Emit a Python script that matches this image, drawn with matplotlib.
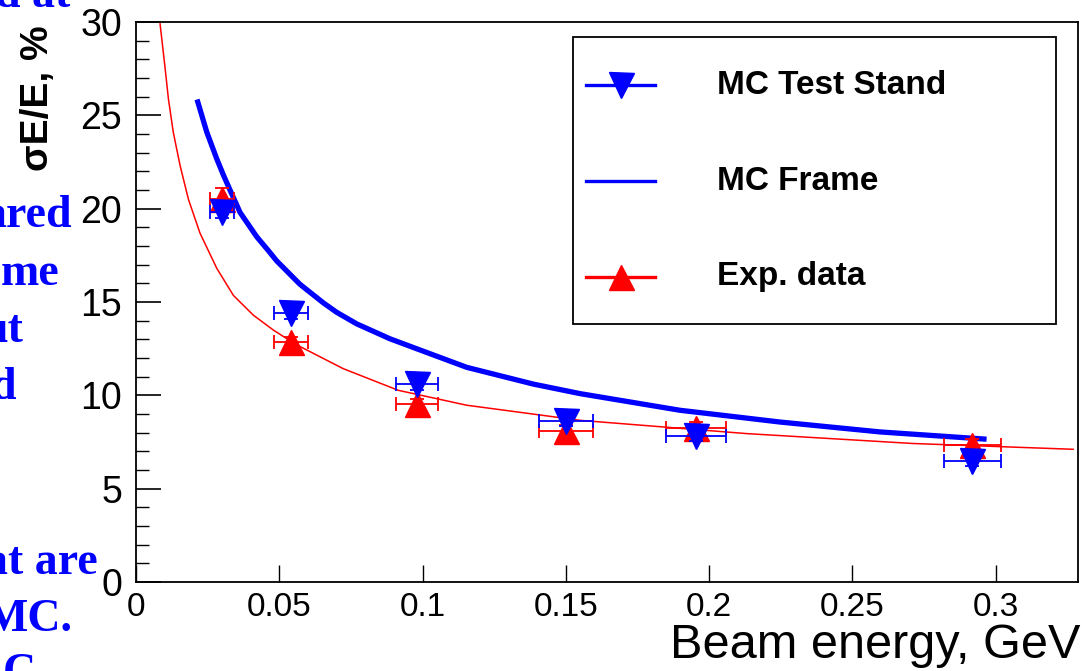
import matplotlib
matplotlib.use("Agg")
import matplotlib.pyplot as plt
from matplotlib.lines import Line2D
from matplotlib.patches import Rectangle

# ---------------- data ----------------
energy = [0.030, 0.054, 0.098, 0.150, 0.1953, 0.2918]
energy_err = [0.0042, 0.0060, 0.0073, 0.0094, 0.0105, 0.0099]

mc_stand = [19.8, 14.4, 10.6, 8.65, 7.83, 6.49]
mc_stand_err = [0.3, 0.3, 0.3, 0.3, 0.3, 0.3]

exp_data = [20.5, 12.85, 9.52, 8.10, 8.27, 7.34]
exp_data_err = [0.6, 0.3, 0.3, 0.3, 0.3, 0.3]

frame_x = [0.0213, 0.0247, 0.0282, 0.0305, 0.0328, 0.0363, 0.0421, 0.0462,
           0.0491, 0.0572, 0.0654, 0.0700, 0.0770, 0.0886, 0.1026, 0.1154,
           0.1387, 0.155, 0.1898, 0.2247, 0.2596, 0.2968]
frame_y = [25.85, 24.1, 22.66, 21.8, 21.0, 19.8, 18.5, 17.75,
           17.2, 15.95, 14.95, 14.45, 13.83, 13.03, 12.23, 11.5,
           10.6, 10.09, 9.2, 8.57, 8.04, 7.65]

fit_x = [0.0084, 0.0101, 0.0113, 0.0130, 0.0154, 0.0183, 0.0223, 0.0282,
         0.0340, 0.0409, 0.0479, 0.0555, 0.0723, 0.0915, 0.1154, 0.155,
         0.2131, 0.2711, 0.327]
fit_y = [29.9, 27.6, 25.9, 24.1, 22.3, 20.5, 18.7, 16.8,
         15.35, 14.3, 13.5, 12.75, 11.43, 10.27, 9.47, 8.66,
         7.95, 7.42, 7.11]

x_ticks = [0, 0.05, 0.1, 0.15, 0.2, 0.25, 0.3]
x_tick_labels = ["0", "0.05", "0.1", "0.15", "0.2", "0.25", "0.3"]
y_ticks = [0, 5, 10, 15, 20, 25, 30]

legend_labels = ["MC Test Stand", "MC Frame", "Exp. data"]
side_texts = ["d at", "ared", "me", "ut", "d", "at are", "MC.", "C"]

# ---------------- figure ----------------
W, H = 1082, 671
fig = plt.figure(figsize=(W / 100, H / 100), dpi=100)
fig.patch.set_facecolor("white")

def px(x, y):
    return x / W, 1 - y / H

ax = fig.add_axes([136 / W, 1 - 582 / H, 942 / W, 560 / H])
ax.set_xlim(0, 0.3287)
ax.set_ylim(0, 30)

# fit curves
ax.plot(fit_x, fit_y, color="red", lw=1.1, zorder=2, solid_joinstyle="round")
ax.plot(frame_x, frame_y, color="blue", lw=3.8, zorder=3,
        solid_capstyle="butt", solid_joinstyle="round")

# data points
ax.errorbar(energy, exp_data, xerr=energy_err, yerr=exp_data_err, fmt="^",
            color="red", ms=18, elinewidth=1.3, capsize=5, capthick=1.3,
            zorder=4)
ax.errorbar(energy, mc_stand, xerr=energy_err, yerr=mc_stand_err, fmt="v",
            color="blue", ms=18, elinewidth=1.3, capsize=5, capthick=1.3,
            zorder=5)

# ticks
ax.set_xticks(x_ticks)
ax.set_xticklabels(x_tick_labels, fontfamily="Liberation Sans", fontsize=24)
ax.set_yticks(y_ticks)
ax.set_yticklabels([str(v) for v in y_ticks], fontfamily="Liberation Sans",
                   fontsize=27)
ax.set_yticks(range(0, 31), minor=True)
ax.tick_params(axis="y", which="major", direction="in", length=18, width=1.2,
               pad=10, left=True, right=False)
ax.tick_params(axis="y", which="minor", direction="in", length=9, width=1.0,
               left=True, right=False)
ax.tick_params(axis="x", which="major", direction="in", length=12, width=1.0,
               pad=7, top=False)
ax.tick_params(axis="x", which="minor", bottom=False)
for s in ax.spines.values():
    s.set_linewidth(1.3)
    s.set_color("black")

# axis titles
fig.text(*px(38, 98), "σE/E, %", rotation=90, ha="center", va="center",
         fontfamily=["Liberation Sans", "DejaVu Sans"], fontsize=28,
         fontweight="bold")
fig.text(*px(1080, 645), "Beam energy, GeV", ha="right", va="center",
         fontfamily="Liberation Sans", fontsize=35)

# legend box (manual, axes coordinates)
def axf(x, y):
    return (x - 136) / 942, (582 - y) / 560

lx0, ly0 = axf(573, 324)
lx1, ly1 = axf(1056, 37)
ax.add_patch(Rectangle((lx0, ly0), lx1 - lx0, ly1 - ly0, transform=ax.transAxes,
                       facecolor="white", edgecolor="black", lw=1.3, zorder=6))
styles = [("blue", "v"), ("blue", None), ("red", "^")]
for (col, mk), lab, yy in zip(styles, legend_labels, [85, 181, 277]):
    xa, ya = axf(586, yy)
    xb, _ = axf(655, yy)
    ax.add_line(Line2D([xa, xb], [ya, ya], transform=ax.transAxes, color=col,
                       lw=2.4, zorder=7))
    if mk:
        ax.add_line(Line2D([(xa + xb) / 2], [ya], transform=ax.transAxes,
                           marker=mk, color=col, ms=18, lw=0, zorder=8))
    xt, _ = axf(717, yy)
    ax.text(xt, ya, lab, transform=ax.transAxes, ha="left", va="center",
            fontfamily="Liberation Sans", fontsize=24, fontweight="bold",
            zorder=8)

# partial slide text on the left margin (cut by the image edge, as in the source)
side_pos = [(70, -4), (72, 216), (59, 274), (23, 331), (16, 388),
            (98, 563), (72, 620), (36, 674)]
for t, (xr, yc) in zip(side_texts, side_pos):
    fig.text(*px(xr, yc), t, ha="right", va="center", color="#0000ff",
             fontfamily="Liberation Serif", fontsize=33, fontweight="bold")

fig.savefig("out.png", dpi=100, facecolor="white")
